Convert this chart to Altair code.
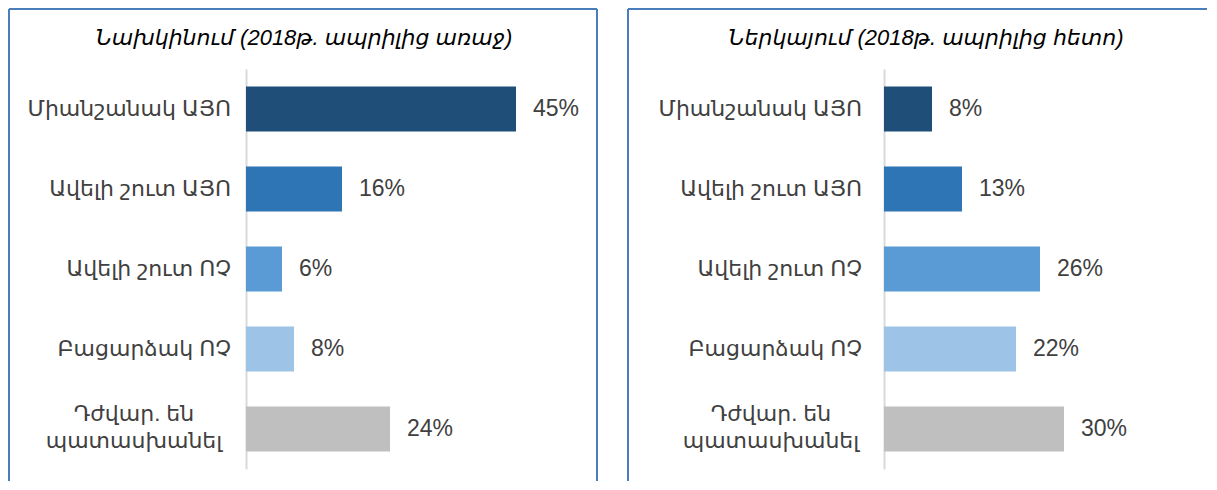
import altair as alt
import pandas as pd

categories = ["Միանշանակ ԱՅՈ", "Ավելի շուտ ԱՅՈ", "Ավելի շուտ ՈՉ", "Բացարձակ ՈՉ", "Դժվար. են\nպատասխանել"]
before_values = [45, 16, 6, 8, 24]
after_values = [8, 13, 26, 22, 30]
bar_colors = ["#1F4E79", "#2E75B6", "#5B9BD5", "#9DC3E6", "#BFBFBF"]
title_before = "Նախկինում (2018թ. ապրիլից առաջ)"
title_after = "Ներկայում (2018թ. ապրիլից հետո)"

FONT = "Liberation Sans, DejaVu Sans, sans-serif"
BORDER = "#4A7EBB"
TEXT = "#404040"
W, H = 300, 400


def rule(x, x2, y, y2):
    return alt.Chart(pd.DataFrame({"a": [0]})).mark_rule(
        stroke=BORDER, strokeWidth=2
    ).encode(x=alt.value(x), x2=alt.value(x2), y=alt.value(y), y2=alt.value(y2))


def panel(values, title, border_rules, title_x, lab_x, multi_x):
    df = pd.DataFrame({
        "cat": categories,
        "val": values,
        "label": [f"{v}%" for v in values],
    })
    base = alt.Chart(df)
    y = alt.Y("cat:N", sort=categories,
              scale=alt.Scale(paddingInner=0.44, paddingOuter=0.22),
              axis=alt.Axis(labels=False, ticks=False, title=None, grid=False,
                            domainColor="#D9D9D9", domainWidth=2))
    x = alt.X("val:Q", scale=alt.Scale(domain=[0, 50]), axis=None)

    bars = base.mark_bar().encode(
        x=x, y=y,
        color=alt.Color("cat:N", scale=alt.Scale(domain=categories, range=bar_colors), legend=None),
    )
    vals = base.mark_text(align="left", baseline="middle", dx=17, fontSize=23,
                          font=FONT, color=TEXT).encode(x=x, y=y, text="label:N")
    single = base.transform_filter("indexof(datum.cat, '\\n') < 0").mark_text(
        align="right", baseline="middle", fontSize=22, font=FONT, color=TEXT
    ).encode(x=alt.value(lab_x), y=y, text="cat:N")
    multi = base.transform_filter("indexof(datum.cat, '\\n') >= 0").mark_text(
        align="center", baseline="middle", fontSize=22, font=FONT, color=TEXT,
        lineBreak="\n", lineHeight=27, dy=-15
    ).encode(x=alt.value(multi_x), y=y, text="cat:N")
    ttl = alt.Chart(pd.DataFrame({"t": [title]})).mark_text(
        align="center", baseline="middle", fontSize=22, fontStyle="italic",
        font=FONT, color="#000000"
    ).encode(x=alt.value(title_x), y=alt.value(-31), text="t:N")

    return alt.layer(*border_rules, bars, vals, single, multi, ttl).properties(width=W, height=H)


left = panel(
    before_values, title_before,
    [rule(-237, -237, -60, 412), rule(351, 351, -60, 412), rule(-237, 351, -60, -60)],
    58, -15, -112,
)
right = panel(
    after_values, title_after,
    [rule(-256, -256, -60, 412), rule(-256, 323, -60, -60)],
    42, -22, -113,
)

chart = alt.hconcat(left, right, spacing=29).configure(padding=0).configure_view(stroke=None)

chart.save("out.html", embed_options={"renderer": "svg", "actions": False})
